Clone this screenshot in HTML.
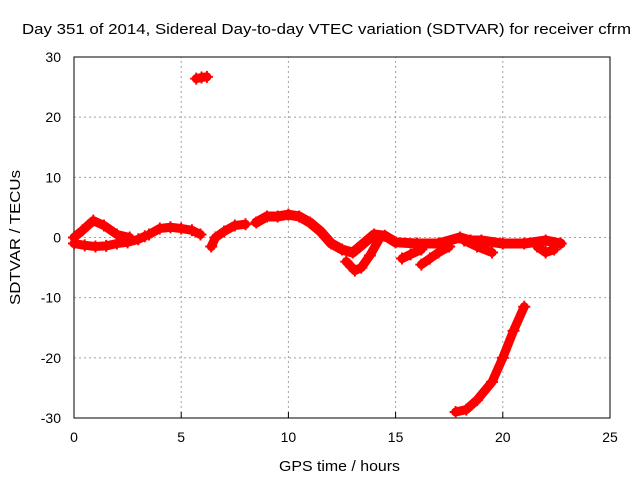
<!DOCTYPE html>
<html><head><meta charset="utf-8"><style>
body{margin:0;background:#fff}
svg{display:block;font-family:"Liberation Sans",sans-serif}
</style></head><body>
<svg id="chart" width="640" height="480" xmlns="http://www.w3.org/2000/svg">
<text x="22" y="34" font-size="15" textLength="609" lengthAdjust="spacingAndGlyphs">Day 351 of 2014, Sidereal Day-to-day VTEC variation (SDTVAR) for receiver cfrm</text>
<g id="grid"></g>
<g id="axes"></g>
<g id="series"></g>
<text x="279" y="471" font-size="15" textLength="121" lengthAdjust="spacingAndGlyphs">GPS time / hours</text>
<text transform="translate(20,305) rotate(-90)" font-size="15" textLength="135" lengthAdjust="spacingAndGlyphs">SDTVAR / TECUs</text>
</svg>
<script>
const xTicks=[0,5,10,15,20,25];
const yTicks=[-30,-20,-10,0,10,20,30];
const segMainT=[8.5,9,9.5,10,10.5,11,11.5,12,12.5,13,13.5,14,14.5,15,16,17,18,18.5,19,20,21,22,22.7];
const segMainV=[2.5,3.5,3.5,3.8,3.5,2.5,1,-1,-2,-2.5,-1,0.5,0.3,-0.8,-1,-1,0,-0.5,-0.5,-1,-1,-0.5,-1];
const segLowT=[0,0.5,1,1.5,2,2.5,3,3.3];
const segLowV=[-1,-1.3,-1.5,-1.4,-1,-0.8,-0.3,0.2];
const segUpT=[0,0.4,0.9,1.4,2,2.6];
const segUpV=[0,1.2,2.8,2,0.5,0];
const segMidT=[3.5,4,4.5,5,5.5,5.9];
const segMidV=[0.5,1.5,1.7,1.5,1.2,0.5];
const segRiseT=[6.4,6.6,7,7.5,8];
const segRiseV=[-1.5,0,1,2,2.2];
const segDipT=[12.7,13.1,13.4,13.8,14.2];
const segDipV=[-4,-5.5,-5,-3,-0.5];
const segB1T=[15.3,15.7,16.2];
const segB1V=[-3.5,-2.8,-2];
const segB2T=[16.2,16.6,17,17.5];
const segB2V=[-4.5,-3.5,-2.5,-1.5];
const segB3T=[18.2,18.8,19.5];
const segB3V=[-0.5,-1.5,-2.5];
const segB4T=[21.6,22,22.4];
const segB4V=[-1.5,-2.5,-2];
const segTopT=[5.7,5.95,6.2];
const segTopV=[26.4,26.6,26.7];
const segBotT=[17.8,18.3,18.8,19.5,20,20.5,21];
const segBotV=[-29,-28.6,-27,-24,-20,-15.5,-11.5];
const segments=[[segMainT,segMainV],[segLowT,segLowV],[segUpT,segUpV],[segMidT,segMidV],[segRiseT,segRiseV],[segDipT,segDipV],[segB1T,segB1V],[segB2T,segB2V],[segB3T,segB3V],[segB4T,segB4V],[segTopT,segTopV],[segBotT,segBotV]];
const X0=74,X1=610,Y0=418,Y1=57;
const xs=h=>X0+(h/25)*(X1-X0);
const ys=v=>Y0-((v+30)/60)*(Y0-Y1);
const NS="http://www.w3.org/2000/svg";
function mk(tag,attrs,parent){const e=document.createElementNS(NS,tag);for(const k in attrs)e.setAttribute(k,attrs[k]);parent.appendChild(e);return e;}
const grid=document.getElementById('grid'),axes=document.getElementById('axes'),ser=document.getElementById('series');
xTicks.forEach(t=>{
 if(t>0&&t<25){const l=mk('line',{x1:xs(t),x2:xs(t),y1:Y0,y2:Y1,stroke:'#a0a0a0','stroke-dasharray':'2,3'},grid);
 
 }
 const tk=mk('line',{x1:xs(t),x2:xs(t),y1:Y0,y2:Y0-6,stroke:'#000'},axes);
 
 
 const tx=mk('text',{x:xs(t),y:Y0+24,'font-size':14,'text-anchor':'middle'},axes);tx.textContent=t;
 
 
});
yTicks.forEach(t=>{
 if(t>-30&&t<30){const l=mk('line',{x1:X0,x2:X1,y1:ys(t),y2:ys(t),stroke:'#a0a0a0','stroke-dasharray':'2,3'},grid);
 
 }
 const tx=mk('text',{x:X0-13,y:ys(t)+5,'font-size':14,'text-anchor':'end'},axes);tx.textContent=t;
 
 
});
const fr=mk('rect',{x:X0,y:Y1,width:X1-X0,height:Y0-Y1,fill:'none',stroke:'#000'},axes);


segments.forEach(([T,V],si)=>{
 const pts=T.map((t,i)=>xs(t)+','+ys(V[i])).join(' ');
 const pl=mk('polyline',{points:pts,fill:'none',stroke:'#f00','stroke-width':si===0?10:9,'stroke-linejoin':'round','stroke-linecap':'round'},ser);
 
 
 T.forEach((t,i)=>{const x=xs(t),y=ys(V[i]);
  const p=mk('path',{d:`M${x-6},${y}h12M${x},${y-6}v12`,stroke:'#f00','stroke-width':2},ser);
  
  
 });
});
</script>
</body></html>
